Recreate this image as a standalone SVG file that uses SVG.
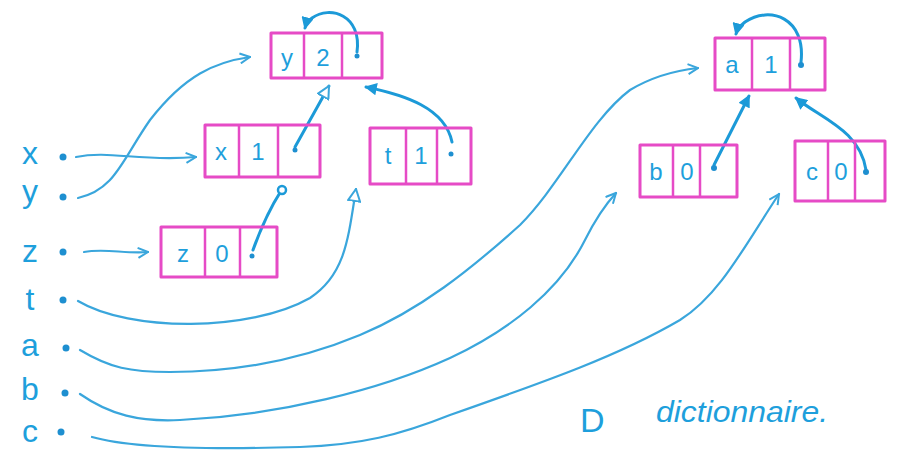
<svg xmlns="http://www.w3.org/2000/svg" width="899" height="471" viewBox="0 0 899 471">
<style>
.box{fill:none;stroke:#e64bc6;stroke-width:3;stroke-linejoin:round}
.div{stroke:#e64bc6;stroke-width:2.5}
.ct{font-family:"Liberation Sans",Arial,sans-serif;font-size:24px;fill:#1e9fdc;text-anchor:middle}
.lab{font-family:"Liberation Sans",Arial,sans-serif;font-size:32px;fill:#1e9fdc;text-anchor:middle}
.dot{fill:#1e8fd0}
.var{fill:none;stroke:#3aa6dc;stroke-width:2.2;stroke-linecap:round}
.par{fill:none;stroke:#1c9ad8;stroke-width:3;stroke-linecap:round}
.cap{font-family:"Liberation Sans",Arial,sans-serif;font-style:italic;font-size:30px;fill:#1e9fdc}
.capd{font-family:"Liberation Sans",Arial,sans-serif;font-size:34px;fill:#1e9fdc}
</style>
<defs>
<marker id="chev" viewBox="0 0 12 12" refX="11" refY="6" markerWidth="12" markerHeight="12" markerUnits="userSpaceOnUse" orient="auto">
<path d="M1,1 L11,6 L1,11" fill="none" stroke="#3aa6dc" stroke-width="2"/>
</marker>
<marker id="otri" viewBox="0 0 14 14" refX="13" refY="7" markerWidth="14" markerHeight="14" markerUnits="userSpaceOnUse" orient="auto">
<path d="M1,1 L13,7 L1,13 Z" fill="#fff" stroke="#3aa6dc" stroke-width="2"/>
</marker>
<marker id="ftri" viewBox="0 0 12 12" refX="11" refY="6" markerWidth="12" markerHeight="12" markerUnits="userSpaceOnUse" orient="auto">
<path d="M1,1 L11,6 L1,11 Z" fill="#1c9ad8" stroke="#1c9ad8" stroke-width="1.5"/>
</marker>
</defs>
<rect width="899" height="471" fill="#fff"/>

<g id="labels">
<text class="lab" x="30" y="164">x</text>
<text class="lab" x="30" y="202">y</text>
<text class="lab" x="30" y="262">z</text>
<text class="lab" x="30" y="310">t</text>
<text class="lab" x="30" y="356">a</text>
<text class="lab" x="30" y="400">b</text>
<text class="lab" x="30" y="442">c</text>
<circle class="dot" cx="63" cy="157" r="3.5"/>
<circle class="dot" cx="63" cy="197" r="3.5"/>
<circle class="dot" cx="63" cy="252" r="3.5"/>
<circle class="dot" cx="63" cy="300" r="3.5"/>
<circle class="dot" cx="66" cy="348" r="3.5"/>
<circle class="dot" cx="65" cy="393" r="3.5"/>
<circle class="dot" cx="61" cy="432" r="3.5"/>
</g>

<g id="connectors">
<path class="var" d="M76,157 C110,150 140,162 196,157" marker-end="url(#chev)"/>
<path class="var" d="M78,198 C115,190 122,160 150,120 C185,75 215,62 250,57" marker-end="url(#chev)"/>
<path class="var" d="M84,252 C105,248 125,254 148,252" marker-end="url(#chev)"/>
<path class="var" d="M78,301 C130,332 250,332 310,298 C345,275 348,240 356,189" marker-end="url(#otri)"/>
<path class="var" d="M80,350 C110,368 130,372 170,372 C240,372 300,360 360,335 C420,310 470,270 520,225 C560,185 590,120 630,90 C655,75 680,70 698,68" marker-end="url(#chev)"/>
<path class="var" d="M80,394 C110,415 140,422 180,420 C280,415 380,390 450,358 C510,330 560,290 585,240 C595,220 605,205 616,193" marker-end="url(#chev)"/>
<path class="var" d="M92,437 C130,448 200,450 300,447 C360,445 400,435 450,415 C550,380 620,355 680,320 C720,295 745,245 779,194" marker-end="url(#chev)"/>
<path class="par" d="M357,52 C362,15 330,5 312,18 C308,21 306,24 305,28" marker-end="url(#ftri)"/>
<path class="par" d="M295,147 L329,86" marker-end="url(#otri)"/>
<path class="par" d="M452,142 C445,108 405,95 366,87" marker-end="url(#ftri)"/>
<path class="par" d="M253,250 C262,225 272,205 281,191"/>
<circle cx="282" cy="190" r="4" fill="#fff" stroke="#1c9ad8" stroke-width="2.5"/>
<path class="par" d="M801,62 C806,18 770,5 745,22 C740,26 737,30 736,34" marker-end="url(#ftri)"/>
<path class="par" d="M714,165 L749,96" marker-end="url(#ftri)"/>
<path class="par" d="M866,170 C860,130 820,118 796,98" marker-end="url(#ftri)"/>
</g>

<g id="node-y2">
<rect class="box" x="271" y="33" width="111" height="45"/>
<line class="div" x1="304" y1="33" x2="304" y2="78"/>
<line class="div" x1="342" y1="33" x2="342" y2="78"/>
<text class="ct" x="287" y="66">y</text>
<text class="ct" x="323" y="66">2</text>
<circle class="dot" cx="357" cy="56" r="2.5"/>
</g>

<g id="node-x1">
<rect class="box" x="205" y="125" width="115" height="52"/>
<line class="div" x1="239" y1="125" x2="239" y2="177"/>
<line class="div" x1="278" y1="125" x2="278" y2="177"/>
<text class="ct" x="221" y="160">x</text>
<text class="ct" x="258" y="160">1</text>
<circle class="dot" cx="295" cy="150" r="2.5"/>
</g>

<g id="node-t1">
<rect class="box" x="370" y="128" width="101" height="56"/>
<line class="div" x1="406" y1="128" x2="406" y2="184"/>
<line class="div" x1="437" y1="128" x2="437" y2="184"/>
<text class="ct" x="388" y="164">t</text>
<text class="ct" x="421" y="164">1</text>
<circle class="dot" cx="451" cy="154" r="2.5"/>
</g>

<g id="node-z0">
<rect class="box" x="161" y="227" width="116" height="50"/>
<line class="div" x1="205" y1="227" x2="205" y2="277"/>
<line class="div" x1="240" y1="227" x2="240" y2="277"/>
<text class="ct" x="183" y="262">z</text>
<text class="ct" x="222" y="262">0</text>
<circle class="dot" cx="252" cy="256" r="2.5"/>
</g>

<g id="node-a1">
<rect class="box" x="715" y="38" width="110" height="52"/>
<line class="div" x1="752" y1="38" x2="752" y2="90"/>
<line class="div" x1="790" y1="38" x2="790" y2="90"/>
<text class="ct" x="732" y="73">a</text>
<text class="ct" x="771" y="73">1</text>
<circle class="dot" cx="801" cy="65" r="3"/>
</g>

<g id="node-b0">
<rect class="box" x="640" y="145" width="97" height="52"/>
<line class="div" x1="673" y1="145" x2="673" y2="197"/>
<line class="div" x1="700" y1="145" x2="700" y2="197"/>
<text class="ct" x="656" y="180">b</text>
<text class="ct" x="687" y="180">0</text>
<circle class="dot" cx="714" cy="168" r="3"/>
</g>

<g id="node-c0">
<rect class="box" x="795" y="141" width="90" height="60"/>
<line class="div" x1="828" y1="141" x2="828" y2="201"/>
<line class="div" x1="855" y1="141" x2="855" y2="201"/>
<text class="ct" x="812" y="180">c</text>
<text class="ct" x="841" y="180">0</text>
<circle class="dot" cx="866" cy="172" r="3"/>
</g>

<g id="caption">
<text class="capd" x="580" y="432">D</text>
<text class="cap" x="656" y="422" textLength="172" lengthAdjust="spacingAndGlyphs">dictionnaire.</text>
</g>
</svg>
